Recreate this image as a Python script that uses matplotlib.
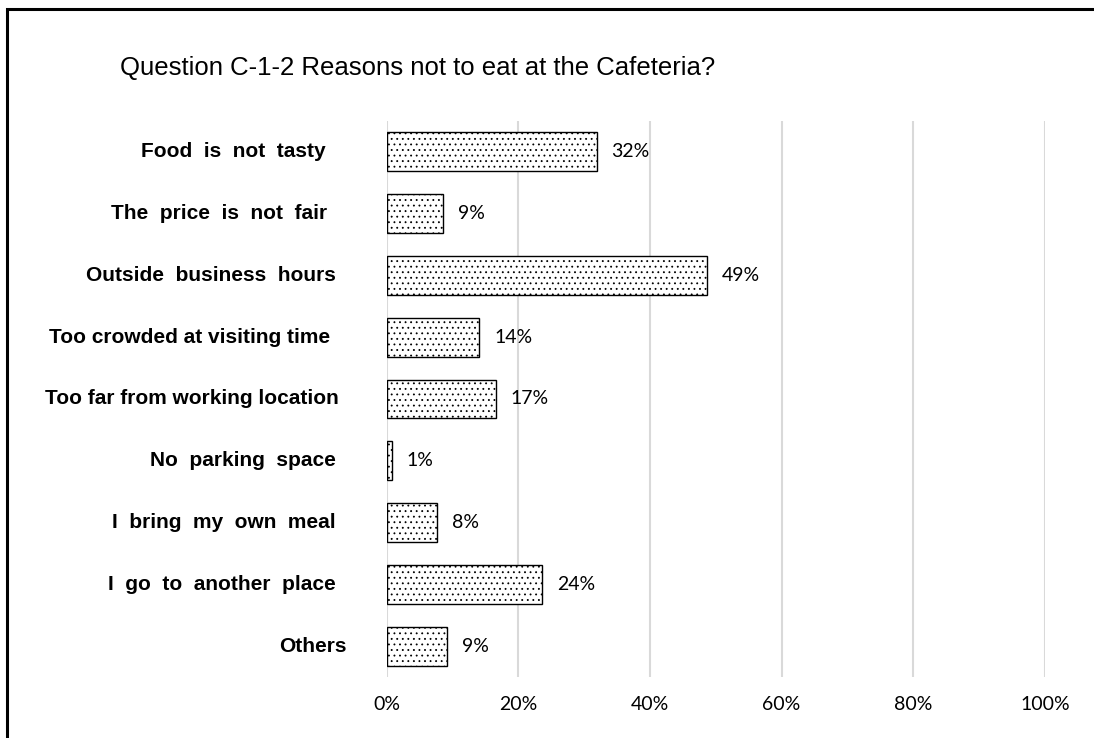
import matplotlib
matplotlib.use("Agg")
import matplotlib.pyplot as plt
from matplotlib.patches import Rectangle

# data
reasons = ["Food  is  not  tasty", "The  price  is  not  fair", "Outside  business  hours",
           "Too crowded at visiting time", "Too far from working location", "No  parking  space",
           "I  bring  my  own  meal", "I  go  to  another  place", "Others"]
shares = [31.9, 8.6, 48.7, 14.1, 16.6, 0.8, 7.6, 23.6, 9.2]
ticks = [0, 20, 40, 60, 80, 100]
title = "Question C-1-2 Reasons not to eat at the Cafeteria?"

# small per-label nudges so the labels end where they do in the original (pixels)
label_gap = [61, 59, 51, 56, 48, 51, 51, 51, 40]

plt.rcParams["hatch.linewidth"] = 0.6

W, H = 1094, 738
fig = plt.figure(figsize=(W / 100, H / 100), dpi=100)
fig.patch.set_facecolor("white")

ax = fig.add_axes([386.5 / W, 61 / H, 658.5 / W, 556 / H])

ypos = list(range(len(reasons)))
ax.barh(ypos, shares, height=0.63, color="white", edgecolor="black",
        linewidth=1.0, hatch="...", zorder=3)

ax.set_xlim(0, 100)
ax.set_ylim(len(reasons) - 0.5, -0.5)
ax.set_xticks(ticks)
ax.set_xticklabels([f"{t}%" for t in ticks], fontfamily="Lato", fontsize=14)
ax.set_yticks([])
ax.tick_params(axis="x", length=0, pad=14)
ax.grid(axis="x", color="#d9d9d9", linewidth=1.5, zorder=0)
for s in ax.spines.values():
    s.set_visible(False)

# value labels
for y, v in zip(ypos, shares):
    ax.annotate(f"{v:.0f}%", xy=(v, y), xytext=(15, 0), textcoords="offset pixels",
                va="center", ha="left", fontfamily="Lato", fontsize=14)

# category labels
for y, name, gap in zip(ypos, reasons, label_gap):
    ax.annotate(name, xy=(0, y), xycoords=("axes fraction", "data"),
                xytext=(-gap, 0), textcoords="offset pixels",
                ha="right", va="center", fontfamily="Liberation Sans",
                fontweight="bold", fontsize=15)

fig.text(120 / W, 1 - 75 / H, title, ha="left", va="baseline",
         fontfamily="Liberation Sans", fontsize=18.5)

# outer frame, only top and left edges fall inside the picture
fig.add_artist(Rectangle((7 / W, -0.1), 1.2, 1 - 9.5 / H + 0.1, transform=fig.transFigure,
                         fill=False, edgecolor="black", linewidth=2.2))

fig.savefig("out.png", dpi=100)
